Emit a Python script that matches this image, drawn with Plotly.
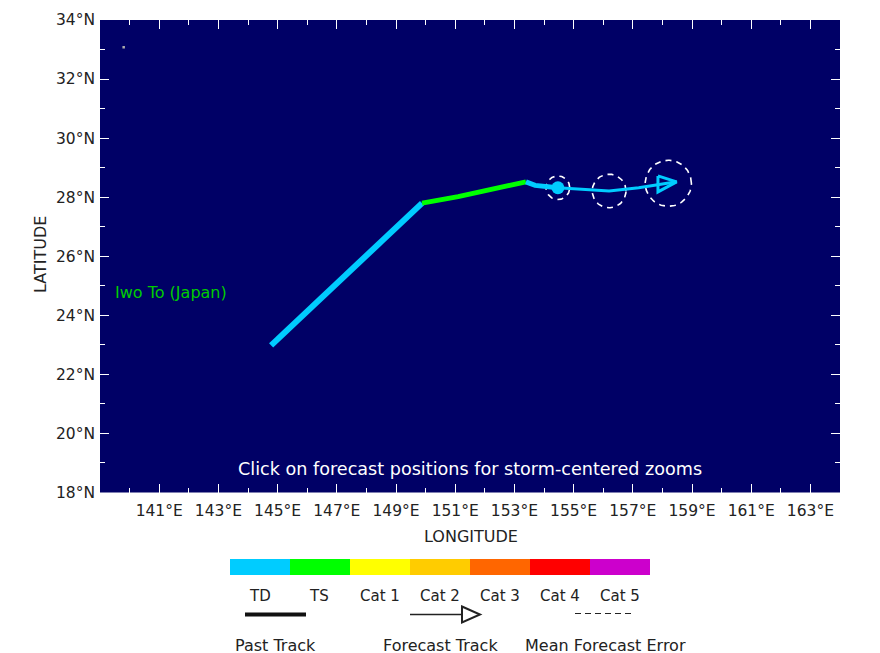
import numpy as np
import plotly.graph_objects as go

W, H = 880, 653
FONT = "DejaVu Sans"
TXT = "#222222"
NAVY = "#000066"

lon_ticks = list(range(141, 165, 2))
lon_labels = [f"{v}°E" for v in lon_ticks]
lat_ticks = list(range(18, 36, 2))
lat_labels = [f"{v}°N" for v in lat_ticks]

td_past_lon = [144.78, 149.88]
td_past_lat = [22.98, 27.80]
ts_past_lon = [149.88, 151.1, 153.39]
ts_past_lat = [27.80, 28.02, 28.52]
td_recent_lon = [153.39, 153.7, 154.47]
td_recent_lat = [28.52, 28.40, 28.32]
fc_lon = [154.47, 156.2, 157.2, 158.48]
fc_lat = [28.32, 28.21, 28.32, 28.52]
head_lon = [157.85, 158.48, 157.85, 157.85]
head_lat = [28.72, 28.52, 28.18, 28.72]
current_lon = [154.47]
current_lat = [28.32]
err_lon = [154.47, 156.2, 158.2]
err_lat = [28.32, 28.21, 28.47]
err_rad = [0.40, 0.57, 0.78]
island_lon = [139.8]
island_lat = [33.08]

cats = ["TD", "TS", "Cat 1", "Cat 2", "Cat 3", "Cat 4", "Cat 5"]
cat_colors = ["#00ccff", "#00ff00", "#ffff00", "#ffcc00", "#ff6600", "#ff0000", "#cc00cc"]
cat_vals = [1, 1, 1, 1, 1, 1, 1]

def px(x):
    return x / W
def py(y):
    return 1 - y / H

fig = go.Figure()

def line(x, y, color, width, dash="solid"):
    fig.add_trace(go.Scatter(x=x, y=y, mode="lines", hoverinfo="skip", showlegend=False,
                             line=dict(color=color, width=width, dash=dash)))

theta = np.linspace(0, 2 * np.pi, 121)
for lo, la, r in zip(err_lon, err_lat, err_rad):
    line(lo + r * np.cos(theta), la + r * np.sin(theta), "white", 1.6, "6px,5px")
line(td_past_lon, td_past_lat, "#00ccff", 6)
line(ts_past_lon, ts_past_lat, "#00ff00", 5)
line(td_recent_lon, td_recent_lat, "#00ccff", 5)
line(fc_lon, fc_lat, "#00ccff", 3)
line(head_lon, head_lat, "#00ccff", 3)
fig.add_trace(go.Scatter(x=current_lon, y=current_lat, mode="markers", showlegend=False, hoverinfo="skip",
                         marker=dict(color="#00ccff", size=13)))
fig.add_trace(go.Scatter(x=island_lon, y=island_lat, mode="markers", showlegend=False, hoverinfo="skip",
                         marker=dict(color="#aaaaaa", size=2.5, symbol="square")))

fig.add_trace(go.Bar(x=cats, y=cat_vals, marker=dict(color=cat_colors, line=dict(width=0)),
                     xaxis="x2", yaxis="y2", showlegend=False, hoverinfo="skip"))

axis_common = dict(showgrid=False, zeroline=False, ticks="inside", tickcolor="white", ticklen=9,
                   tickwidth=1, showline=False, mirror="ticks", automargin=False,
                   tickfont=dict(family=FONT, size=15.5, color=TXT))
minor = dict(ticks="inside", ticklen=5, tickcolor="white", tickwidth=1, dtick=2, showgrid=False)

fig.update_layout(
    width=W, height=H, margin=dict(l=0, r=0, t=0, b=0),
    paper_bgcolor="white", plot_bgcolor=NAVY, bargap=0,
    xaxis=dict(domain=[px(100), px(840)], range=[139, 164], tickvals=lon_ticks, ticktext=lon_labels,
               minor=dict(minor, tick0=140), anchor="y", ticklabelstandoff=7, **axis_common),
    yaxis=dict(domain=[py(492.5), py(20)], range=[18, 34], tickvals=lat_ticks, ticktext=lat_labels,
               minor=dict(minor, tick0=19), anchor="x", ticklabelstandoff=4, **axis_common),
    xaxis2=dict(domain=[px(230), px(650)], visible=False, anchor="y2", type="category"),
    yaxis2=dict(domain=[py(575), py(559)], range=[0, 1], visible=False, anchor="x2"),
    showlegend=False,
)

ann = []
def text(x, y, s, size=14, color=TXT, xanchor="center", **kw):
    ann.append(dict(xref="paper", yref="paper", x=px(x), y=py(y), text=s, showarrow=False, xanchor=xanchor,
                    yanchor="middle", font=dict(family=FONT, size=size, color=color), **kw))

text(470, 469, "Click on forecast positions for storm-centered zooms", 17.6, "white")
text(170.5, 292, "Iwo To (Japan)", 16, "#00cc00")
text(471, 536, "LONGITUDE", 16)
ann.append(dict(xref="paper", yref="paper", x=px(40), y=py(255), text="LATITUDE", textangle=-90, showarrow=False,
                xanchor="center", yanchor="middle", font=dict(family=FONT, size=16, color=TXT)))
for i, c in enumerate(cats):
    text(260 + 60 * i - (1 if i == 1 else 0), 596, c, 15)
text(275, 644.5, "Past Track", 16, borderpad=0, height=16)
text(440, 644.5, "Forecast Track", 16, borderpad=0, height=16)
text(605.5, 644.5, "Mean Forecast Error", 16, borderpad=0, height=16)
fig.update_layout(annotations=ann)

def seg(x0, y0, x1, y1, color, width, dash="solid"):
    return dict(type="line", xref="paper", yref="paper", x0=px(x0), y0=py(y0), x1=px(x1), y1=py(y1),
                line=dict(color=color, width=width, dash=dash))

shapes = [
    seg(245, 614.5, 306, 614.5, "#111111", 4),
    seg(410, 614.5, 462, 614.5, "#222222", 1.5),
    dict(type="path", xref="paper", yref="paper",
         path=f"M {px(462)} {py(606.5)} L {px(480)} {py(614.5)} L {px(462)} {py(622.5)} Z",
         line=dict(color="#222222", width=2)),
    seg(575, 613.5, 632, 613.5, "#222222", 1, "6px,4px"),
]
fig.update_layout(shapes=shapes)

fig.write_html("out.html", config={"displayModeBar": False}, post_script="document.body.style.margin='0';")
